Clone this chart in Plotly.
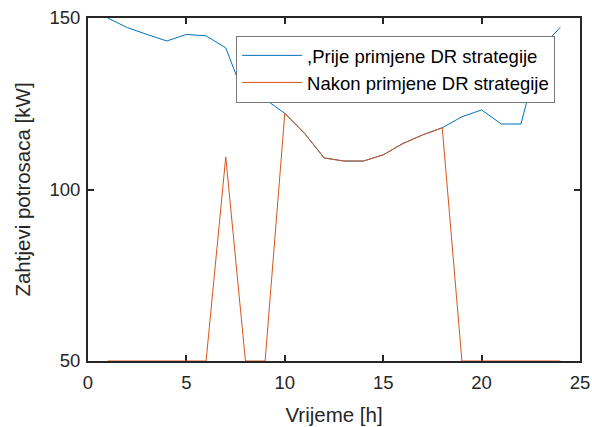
import plotly.graph_objects as go

hours = list(range(1, 25))
before_dr = [150, 147.2, 145.2, 143.3, 145.2, 144.8, 141.3, 126.3, 126.3, 122.2,
             116.4, 109.2, 108.3, 108.3, 110.1, 113.4, 115.9, 118.0, 121.2, 123.2,
             119.1, 119.1, 141.2, 147.3]
after_dr = [50, 50, 50, 50, 50, 50, 109.5, 50, 50, 122.2,
            116.4, 109.2, 108.3, 108.3, 110.1, 113.4, 115.9, 118.0, 50, 50,
            50, 50, 50, 50]
x_ticks = [0, 5, 10, 15, 20, 25]
y_ticks = [50, 100, 150]

FONT = "Liberation Sans, Arial, Helvetica, sans-serif"
DARK = "#262626"

fig = go.Figure()
fig.add_trace(go.Scatter(x=hours, y=before_dr, mode="lines",
                         name=",Prije primjene DR strategije",
                         line=dict(color="#0072BD", width=1)))
fig.add_trace(go.Scatter(x=hours, y=after_dr, mode="lines",
                         name="Nakon primjene DR strategije",
                         line=dict(color="#D95319", width=1)))

axis_common = dict(showline=True, linecolor=DARK, linewidth=2, mirror="ticks",
                   ticks="inside", ticklen=6, tickwidth=1.5, tickcolor=DARK,
                   showgrid=False, zeroline=False, layer="below traces",
                   automargin=False, ticklabeloverflow="allow",
                   tickfont=dict(family=FONT, size=18.5, color=DARK))

fig.update_layout(
    width=592, height=427,
    margin=dict(l=88, r=12, t=18, b=66),
    paper_bgcolor="white", plot_bgcolor="white",
    font=dict(family=FONT, color=DARK),
    xaxis=dict(range=[0, 25], tickvals=x_ticks, ticklabelstandoff=4,
               title=dict(text="Vrijeme [h]", font=dict(family=FONT, size=20.5, color=DARK), standoff=15),
               **axis_common),
    yaxis=dict(range=[50, 150], tickvals=y_ticks, ticklabelstandoff=2,
               title=dict(text="Zahtjevi potrosaca [kW]", font=dict(family=FONT, size=20.5, color=DARK), standoff=13),
               **axis_common),
    legend=dict(x=0.301, y=0.948, xanchor="left", yanchor="top",
                bgcolor="white", bordercolor="#7a7a7a", borderwidth=1,
                font=dict(family=FONT, size=18.5, color="black"),
                tracegroupgap=0, itemwidth=60),
    showlegend=True,
)

fig.write_html("out.html", config={"displayModeBar": False},
               post_script="document.body.style.margin='0';document.body.style.overflow='hidden';")
